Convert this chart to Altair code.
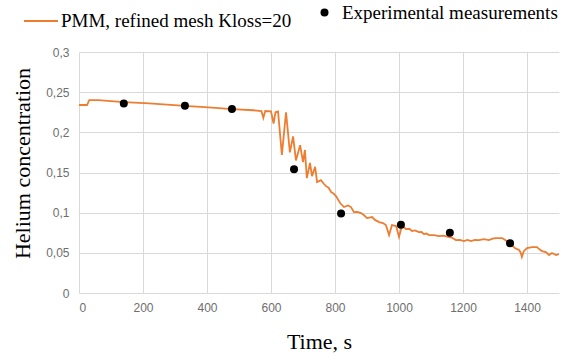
import altair as alt
import pandas as pd

SIM_LABEL = "PMM, refined mesh Kloss=20"
EXP_LABEL = "Experimental measurements"

# Simulated helium concentration (PMM, refined mesh)
time_s = [0, 25, 32, 60, 140, 220, 330, 405, 478, 545, 570, 576, 582, 600, 608,
          614, 622, 634, 647, 659, 669, 678, 691, 700, 706, 712, 722, 728, 738,
          744, 756, 765, 772, 780, 788, 795, 803, 816, 828, 841, 850, 859, 870,
          881, 890, 900, 916, 925, 938, 950, 959, 969, 978, 991, 1000, 1009,
          1022, 1032, 1041, 1050, 1062, 1070, 1078, 1086, 1094, 1110, 1125,
          1140, 1156, 1165, 1178, 1190, 1203, 1214, 1225, 1237, 1250, 1265,
          1281, 1295, 1306, 1322, 1332, 1344, 1352, 1362, 1375, 1380, 1384,
          1390, 1400, 1416, 1431, 1440, 1447, 1459, 1469, 1478, 1491, 1500]
helium_sim = [0.234, 0.234, 0.240, 0.240, 0.2375, 0.236, 0.233, 0.231, 0.229,
              0.2275, 0.2265, 0.218, 0.2265, 0.2262, 0.211, 0.225, 0.226, 0.172,
              0.225, 0.175, 0.195, 0.165, 0.184, 0.163, 0.178, 0.143, 0.162,
              0.1455, 0.157, 0.138, 0.1405, 0.136, 0.133, 0.131, 0.1256, 0.124,
              0.1206, 0.112, 0.107, 0.109, 0.107, 0.1007, 0.101, 0.0995, 0.097,
              0.0933, 0.0945, 0.091, 0.0883, 0.087, 0.0846, 0.0721, 0.0846,
              0.0833, 0.0697, 0.0833, 0.0796, 0.080, 0.0771, 0.078, 0.0759,
              0.076, 0.0734, 0.074, 0.0721, 0.072, 0.0709, 0.0715, 0.0697,
              0.069, 0.0659, 0.066, 0.0647, 0.066, 0.0647, 0.066, 0.0659, 0.067,
              0.0659, 0.068, 0.0684, 0.0684, 0.066, 0.0622, 0.060, 0.056,
              0.0535, 0.0505, 0.0448, 0.052, 0.056, 0.0572, 0.0572, 0.054,
              0.0522, 0.051, 0.0473, 0.0498, 0.0473, 0.0485]

# Measured points
exp_time = [140, 331, 478, 672, 819, 1006, 1159, 1347]
exp_helium = [0.236, 0.233, 0.229, 0.154, 0.099, 0.085, 0.075, 0.062]

x_ticks = [0, 200, 400, 600, 800, 1000, 1200, 1400]
y_ticks = [0, 0.05, 0.1, 0.15, 0.2, 0.25, 0.3]

sim = pd.DataFrame({"t": time_s, "c": helium_sim, "series": SIM_LABEL})
exp = pd.DataFrame({"t": exp_time, "c": exp_helium, "series": EXP_LABEL})

SERIF = "Liberation Serif"
SANS = "Liberation Sans"

x_enc = alt.X(
    "t:Q",
    scale=alt.Scale(domain=[0, 1500], nice=False, zero=False),
    axis=alt.Axis(values=x_ticks, format="d", title="Time, s", labelPadding=9,
                  titleY=55, titleBaseline="alphabetic"),
)
y_enc = alt.Y(
    "c:Q",
    scale=alt.Scale(domain=[0, 0.3], nice=False),
    axis=alt.Axis(values=y_ticks, title="Helium concentration",
                  labelExpr="replace(format(datum.value, '~g'), '.', ',')",
                  labelPadding=10, titleX=-57, titleY=111,
                  titleBaseline="middle", titleAngle=270),
)

legend_common = dict(orient="none", title=None, padding=0,
                      labelFont=SERIF, labelFontSize=19, labelColor="black",
                      labelLimit=400)

line = alt.Chart(sim).mark_line(strokeWidth=1.8, clip=True).encode(
    x=x_enc,
    y=y_enc,
    color=alt.Color(
        "series:N",
        scale=alt.Scale(domain=[SIM_LABEL], range=["#ED7D31"]),
        legend=alt.Legend(legendX=-56, legendY=-49, symbolType="stroke",
                          symbolSize=1156, symbolStrokeWidth=2,
                          labelOffset=2, **legend_common),
    ),
)

points = alt.Chart(exp).mark_circle(size=64, opacity=1).encode(
    x=x_enc,
    y=y_enc,
    color=alt.Color(
        "series:N",
        scale=alt.Scale(domain=[EXP_LABEL], range=["black"]),
        legend=alt.Legend(legendX=236, legendY=-49, symbolType="circle",
                          symbolSize=64, symbolOpacity=1,
                          labelOffset=8, **legend_common),
    ),
)

chart = (
    alt.layer(line, points)
    .resolve_scale(color="independent")
    .properties(
        width=480,
        height=241,
        autosize=alt.AutoSizeParams(type="none"),
        padding={"left": 79, "top": 52, "right": 2, "bottom": 65},
    )
    .configure_view(stroke=None)
    .configure_axis(
        grid=True,
        gridColor="#d9d9d9",
        gridWidth=1,
        domain=False,
        ticks=False,
        labelFont=SANS,
        labelFontSize=12,
        labelColor="#6e6e6e",
        titleFont=SERIF,
        titleFontSize=22,
        titleFontWeight="normal",
        titleColor="black",
    )
)

chart.save("out.html", embed_options={"renderer": "svg", "actions": False})
